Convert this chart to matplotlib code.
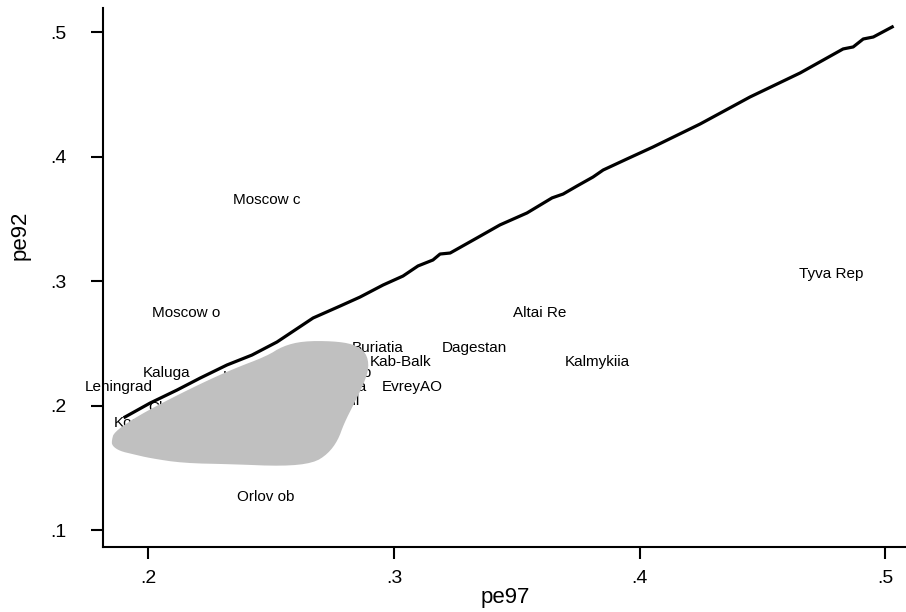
import matplotlib
matplotlib.use("Agg")
import matplotlib.pyplot as plt
import numpy as np
from matplotlib.patches import Polygon

plt.rcParams['font.family'] = ['Liberation Sans', 'DejaVu Sans']

# smoothed line (pe92 vs pe97)
line_x = [0.1905, 0.2007, 0.2117, 0.2211, 0.2320, 0.2422, 0.2524, 0.2671, 0.2781,
          0.2862, 0.2956, 0.3037, 0.3098, 0.3159, 0.3188, 0.3229, 0.3338, 0.3432,
          0.3542, 0.3644, 0.3689, 0.3746, 0.3811, 0.3852, 0.3949, 0.4055, 0.4247,
          0.4450, 0.4654, 0.4829, 0.4870, 0.4911, 0.4952, 0.5029]
line_y = [0.1908, 0.2020, 0.2125, 0.2221, 0.2326, 0.2406, 0.2511, 0.2704, 0.2800,
          0.2872, 0.2969, 0.3041, 0.3122, 0.3170, 0.3218, 0.3226, 0.3347, 0.3452,
          0.3548, 0.3669, 0.3700, 0.3765, 0.3837, 0.3893, 0.3982, 0.4078, 0.4263,
          0.4480, 0.4673, 0.4866, 0.4882, 0.4946, 0.4962, 0.5043]

# region labels (pe97, pe92)
labels = ["Moscow c", "Moscow o", "Kaluga", "Leningrad", "Kostroma", "Chuvashia",
          "Kirov ob", "Penza ob", "Tula", "Sverdl", "Buriatia", "Kab-Balk",
          "Dagestan", "EvreyAO", "Altai Re", "Kalmykiia", "Tyva Rep", "Orlov ob"]
label_x = [0.2345, 0.2015, 0.1978, 0.1742, 0.1860, 0.1999, 0.2304, 0.2645, 0.2770,
           0.2683, 0.2829, 0.2903, 0.3196, 0.2952, 0.3485, 0.3696, 0.4649, 0.2361]
label_y = [0.3652, 0.2744, 0.2261, 0.2149, 0.1859, 0.1980, 0.2229, 0.2262, 0.2149,
           0.2040, 0.2462, 0.2350, 0.2462, 0.2149, 0.2744, 0.2350, 0.3056, 0.1264]

# grey masking area
blob_x = [0.1856, 0.1864, 0.1938, 0.2048, 0.2211, 0.2345, 0.2484, 0.2549, 0.2630,
          0.2752, 0.2834, 0.2883, 0.2895, 0.2874, 0.2834, 0.2793, 0.2768, 0.2728,
          0.2671, 0.2549, 0.2345, 0.2141, 0.2007, 0.1938, 0.1885, 0.1856]
blob_y = [0.1723, 0.1779, 0.1883, 0.2004, 0.2165, 0.2285, 0.2390, 0.2470, 0.2510,
          0.2510, 0.2486, 0.2422, 0.2309, 0.2181, 0.2020, 0.1859, 0.1723, 0.1618,
          0.1546, 0.1521, 0.1537, 0.1546, 0.1586, 0.1618, 0.1643, 0.1683]

xticks = [0.2, 0.3, 0.4, 0.5]
xticklabels = [".2", ".3", ".4", ".5"]
yticks = [0.1, 0.2, 0.3, 0.4, 0.5]
yticklabels = [".1", ".2", ".3", ".4", ".5"]


def chaikin(pts, n=2):
    pts = np.asarray(pts)
    for _ in range(n):
        nxt = np.roll(pts, -1, axis=0)
        q = 0.75 * pts + 0.25 * nxt
        r = 0.25 * pts + 0.75 * nxt
        pts = np.empty((2 * len(q), 2))
        pts[0::2] = q
        pts[1::2] = r
    return pts


fig = plt.figure(figsize=(9.06, 6.12), dpi=100)
ax = fig.add_axes([103/906, 1-546.7/612, 802/906, 538.7/612])

for t, x, y in zip(labels, label_x, label_y):
    ax.text(x, y, t, fontsize=11, ha='left', va='center', zorder=1, clip_on=False)

ax.add_patch(Polygon(chaikin(list(zip(blob_x, blob_y))), closed=True, facecolor='#c0c0c0',
                     edgecolor='#c0c0c0', linewidth=1.5, joinstyle='round', zorder=2))
ax.plot(line_x, line_y, color='black', linewidth=2.3, zorder=2.2)

ax.set_xlim(0.18156, 0.5081)
ax.set_ylim(0.0866, 0.5195)
ax.set_xticks(xticks)
ax.set_xticklabels(xticklabels)
ax.set_yticks(yticks)
ax.set_yticklabels(yticklabels)
ax.tick_params(axis='both', labelsize=14, width=1.5, length=8.5, color='black')
ax.tick_params(axis='x', pad=8)
ax.tick_params(axis='y', pad=18)
for s in ['top', 'right']:
    ax.spines[s].set_visible(False)
for s in ['left', 'bottom']:
    ax.spines[s].set_linewidth(1.5)

fig.text(505/906, 1-598/612, 'pe97', fontsize=16, ha='center', va='center')
fig.text(20/906, 1-235/612, 'pe92', fontsize=16, ha='center', va='center', rotation=90)

fig.savefig('out.png', dpi=100)
